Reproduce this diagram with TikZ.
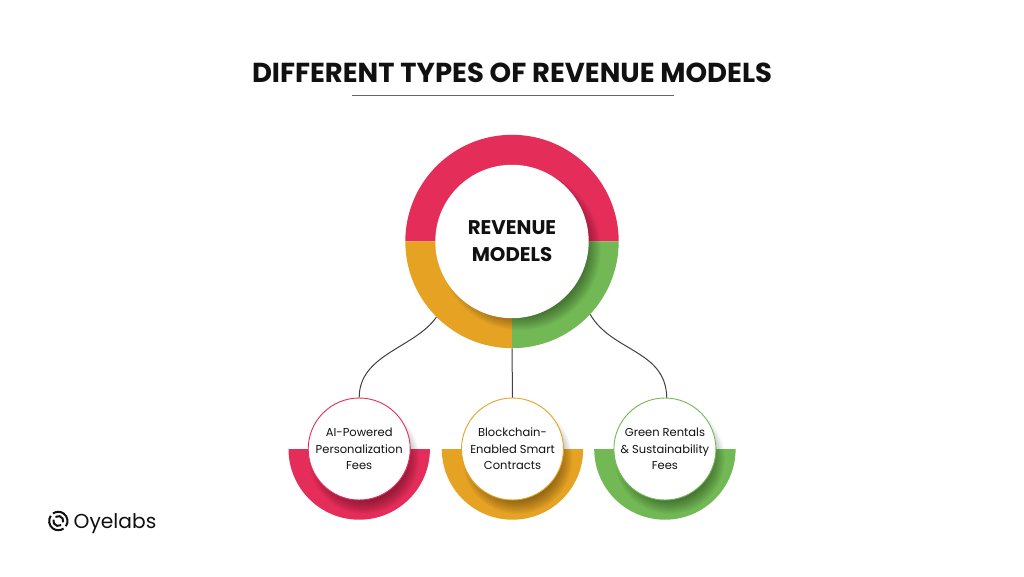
\documentclass[tikz,border=0pt]{standalone}
\usepackage{fontspec}
\setmainfont{Poppins}
\usepackage{xcolor}
\definecolor{ruby}{HTML}{E52D5A}
\definecolor{amber}{HTML}{E6A323}
\definecolor{leaf}{HTML}{72B955}
\definecolor{ink}{HTML}{111111}
\tikzset{
hub/.style={circle,fill=white,minimum size=153.4pt,inner sep=0pt,align=center,
  font=\fontsize{19.8}{27}\selectfont\bfseries,text=ink},
leafnode/.style={circle,fill=white,draw=#1,line width=.9pt,minimum size=102pt,inner sep=0pt,
  align=center,font=\fontsize{11.5}{16.5}\selectfont,text=ink},
wire/.style={draw=black!75,line width=1pt},
logoarc/.style={draw=ink,line width=2pt},
}
% soft offset shadow
\newcommand{\softshadow}[3]{
  \foreach \i in {1,...,14}
    \fill[black,fill opacity=.028] ([shift={(#3)}]#1) circle[radius=#2-10+\i];
}
\begin{document}
\begin{tikzpicture}[x=1pt,y=1pt]
\useasboundingbox (0,0) rectangle (1024,576);
\fill[white] (0,0) rectangle (1024,576);
\node[font=\fontsize{27.45}{30}\selectfont\bfseries,text=ink,inner sep=0pt] (title) at (512,503) {DIFFERENT TYPES OF REVENUE MODELS};
\coordinate (ruleleft) at (351.5,481);
\coordinate (ruleright) at (674,481);
\draw[black!60,line width=.7pt] (ruleleft) -- (ruleright);
% the big ring
\coordinate (hubc) at (512,334.5);
\fill[ruby] (hubc)+(-106.7,0) arc[start angle=180,end angle=0,radius=106.7] -- cycle;
\fill[amber] (hubc)+(-106.7,0) arc[start angle=180,end angle=270,radius=106.7] -- (hubc) -- cycle;
\fill[leaf] (hubc)+(0,-106.7) arc[start angle=270,end angle=360,radius=106.7] -- (hubc) -- cycle;
\softshadow{hubc}{76.7}{8,-8}
\node[circle,minimum size=213.4pt,inner sep=0pt] (ring) at (hubc) {};
\node[hub] (models) at (hubc) {REVENUE\\MODELS};
% the small rings
\foreach \name/\cx/\col in {aic/359.2/ruby,chainc/512.5/amber,greenc/664.9/leaf}
{
  \coordinate (\name) at (\cx,127);
  \fill[\col] (\name)+(-70.7,0) arc[start angle=180,end angle=360,radius=70.7] -- cycle;
  \softshadow{\name}{51}{5,-10}
}
\node[leafnode=ruby] (ai) at (aic) {AI-Powered\\Personalization\\Fees};
\node[leafnode=amber] (chain) at (chainc) {Blockchain-\\Enabled Smart\\Contracts};
\node[leafnode=leaf] (green) at (greenc) {Green Rentals\\\& Sustainability\\Fees};
% the wires
\draw[wire] (ring.225) .. controls (415,228) and (359.2,222) .. (ai.north);
\draw[wire] (ring.south) -- (chain.north);
\draw[wire] (ring.-43) .. controls (612,224) and (666,226) .. (green.88);
% the logo
\coordinate (logoc) at (58.3,55);
\foreach \a in {-35,145}
{
  \draw[logoarc] (logoc)+(\a:9.2) arc[start angle=\a,delta angle=160,radius=9.2];
  \draw[logoarc] (logoc)+(\a+20:5) arc[start angle=\a+20,delta angle=140,radius=5];
}
\node[anchor=west,font=\fontsize{20.2}{22}\selectfont,text=ink,inner sep=0pt] (brand) at (73.5,52.5) {Oyelabs};
\end{tikzpicture}
\end{document}
